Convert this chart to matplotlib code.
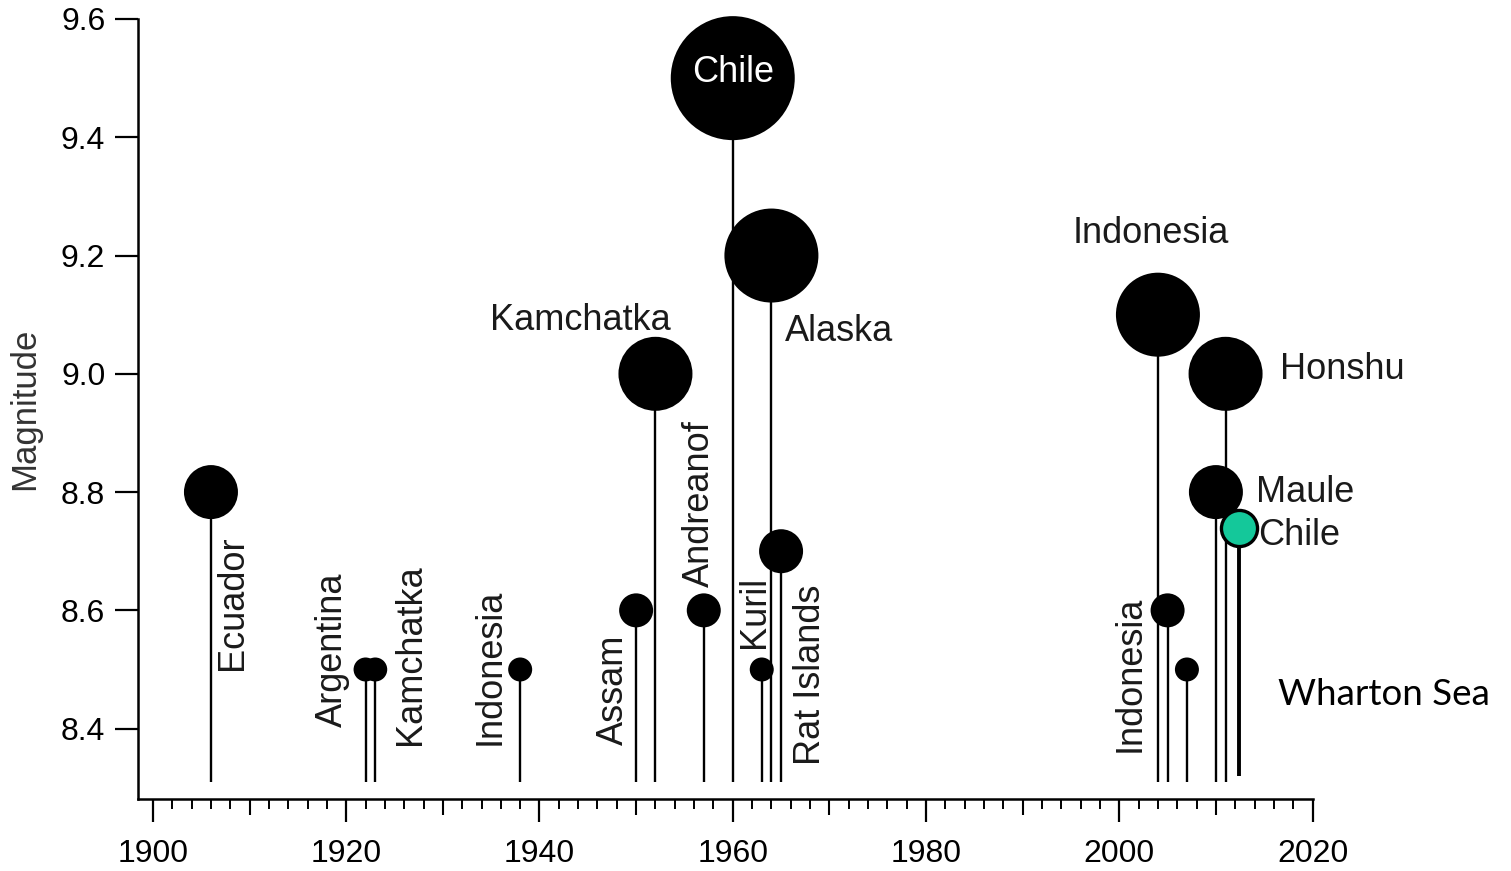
import numpy as np
import matplotlib
matplotlib.use("Agg")
import matplotlib.pyplot as plt
from matplotlib.ticker import FixedLocator

# earthquakes M >= 8.5 since 1900
years = [1906, 1922, 1923, 1938, 1950, 1952, 1957, 1960, 1963, 1964, 1965,
         2004, 2005, 2007, 2010, 2011]
mags = [8.8, 8.5, 8.5, 8.5, 8.6, 9.0, 8.6, 9.5, 8.5, 9.2, 8.7,
        9.1, 8.6, 8.5, 8.8, 9.0]

# highlighted event
wharton_year = 2012.4
wharton_mag = 8.74

x_ticks = [1900, 1920, 1940, 1960, 1980, 2000, 2020]
y_ticks = [8.4, 8.6, 8.8, 9.0, 9.2, 9.4, 9.6]

plt.rcParams["font.family"] = ["Liberation Sans", "DejaVu Sans"]

fig = plt.figure(figsize=(15.11, 8.71), dpi=100)
ax = fig.add_axes([138 / 1511, 72 / 871, 1362 / 1511, 780 / 871])
ax.set_xlim(1898.45, 2039.4)
ax.set_ylim(8.281, 9.6)

base = 8.31
ax.vlines(years, base, mags, color="black", lw=1.7, zorder=2)
diam = [0.72 * (24 + 100 * (m - 8.5)) for m in mags]
ax.scatter(years, mags, s=[d ** 2 for d in diam], color="black",
           zorder=3, clip_on=False, linewidths=0)

ax.vlines([wharton_year], 8.32, wharton_mag, color="black", lw=2.8, zorder=2)
ax.plot([wharton_year], [wharton_mag], "o", ms=26, mfc="#14c89a",
        mec="black", mew=2.4, zorder=4, clip_on=False)

txt = "#1a1a1a"
fs = 26
# vertical labels: (text, x, y bottom)
vlabels = [("Ecuador", 1908.2, 8.499), ("Argentina", 1918.6, 8.403),
           ("Kamchatka", 1926.6, 8.373), ("Indonesia", 1934.9, 8.373),
           ("Assam", 1947.6, 8.373), ("Andreanof", 1956.6, 8.640),
           ("Kuril", 1962.3, 8.537), ("Rat Islands", 1968.0, 8.339),
           ("Indonesia", 2001.1, 8.361)]
for t, x, y in vlabels:
    ax.text(x, y, t, rotation=90, ha="center", va="bottom", fontsize=fs,
            color=txt)

hlabels = [("Kamchatka", 1944.2, 9.091, "center"), ("Alaska", 1971.0, 9.071, "center"),
           ("Indonesia", 2003.3, 9.237, "center"), ("Honshu", 2023.1, 9.008, "center"),
           ("Maule", 2014.2, 8.799, "left"), ("Chile", 2014.4, 8.726, "left")]
for t, x, y, ha in hlabels:
    ax.text(x, y, t, ha=ha, va="center", fontsize=fs, color=txt)

ax.text(1960, 9.51, "Chile", ha="center", va="center", fontsize=fs,
        color="white", zorder=5)
ax.text(2016.4, 8.457, "Wharton Sea", ha="left", va="center", fontsize=26.5,
        color="black", family=["Lato", "DejaVu Sans"])

ax.set_ylabel("Magnitude", fontsize=25, color="#333333", labelpad=14)

for s in ["top", "right"]:
    ax.spines[s].set_visible(False)
ax.spines["left"].set_linewidth(1.8)
ax.spines["bottom"].set_linewidth(1.8)
ax.spines["bottom"].set_bounds(1898.45, 2020)

ax.set_xticks(x_ticks)
ax.set_xticklabels([str(v) for v in x_ticks])
ax.xaxis.set_minor_locator(FixedLocator(np.arange(1900, 2021, 2)))
ax.set_yticks(y_ticks)
ax.set_yticklabels([f"{v:.1f}" for v in y_ticks])
ax.tick_params(axis="x", which="major", length=16.5, width=1.6, pad=12, labelsize=23)
ax.tick_params(axis="x", which="minor", length=7, width=1.4)
ax.tick_params(axis="y", which="major", length=16.5, width=1.6, pad=7, labelsize=23)

sec = ax.secondary_xaxis("bottom")
sec.set_xticks([1910, 1930, 1950, 1970, 1990, 2010])
sec.tick_params(length=11.5, width=1.5, labelbottom=False)
sec.spines["bottom"].set_visible(False)

fig.savefig("out.png", dpi=100)
